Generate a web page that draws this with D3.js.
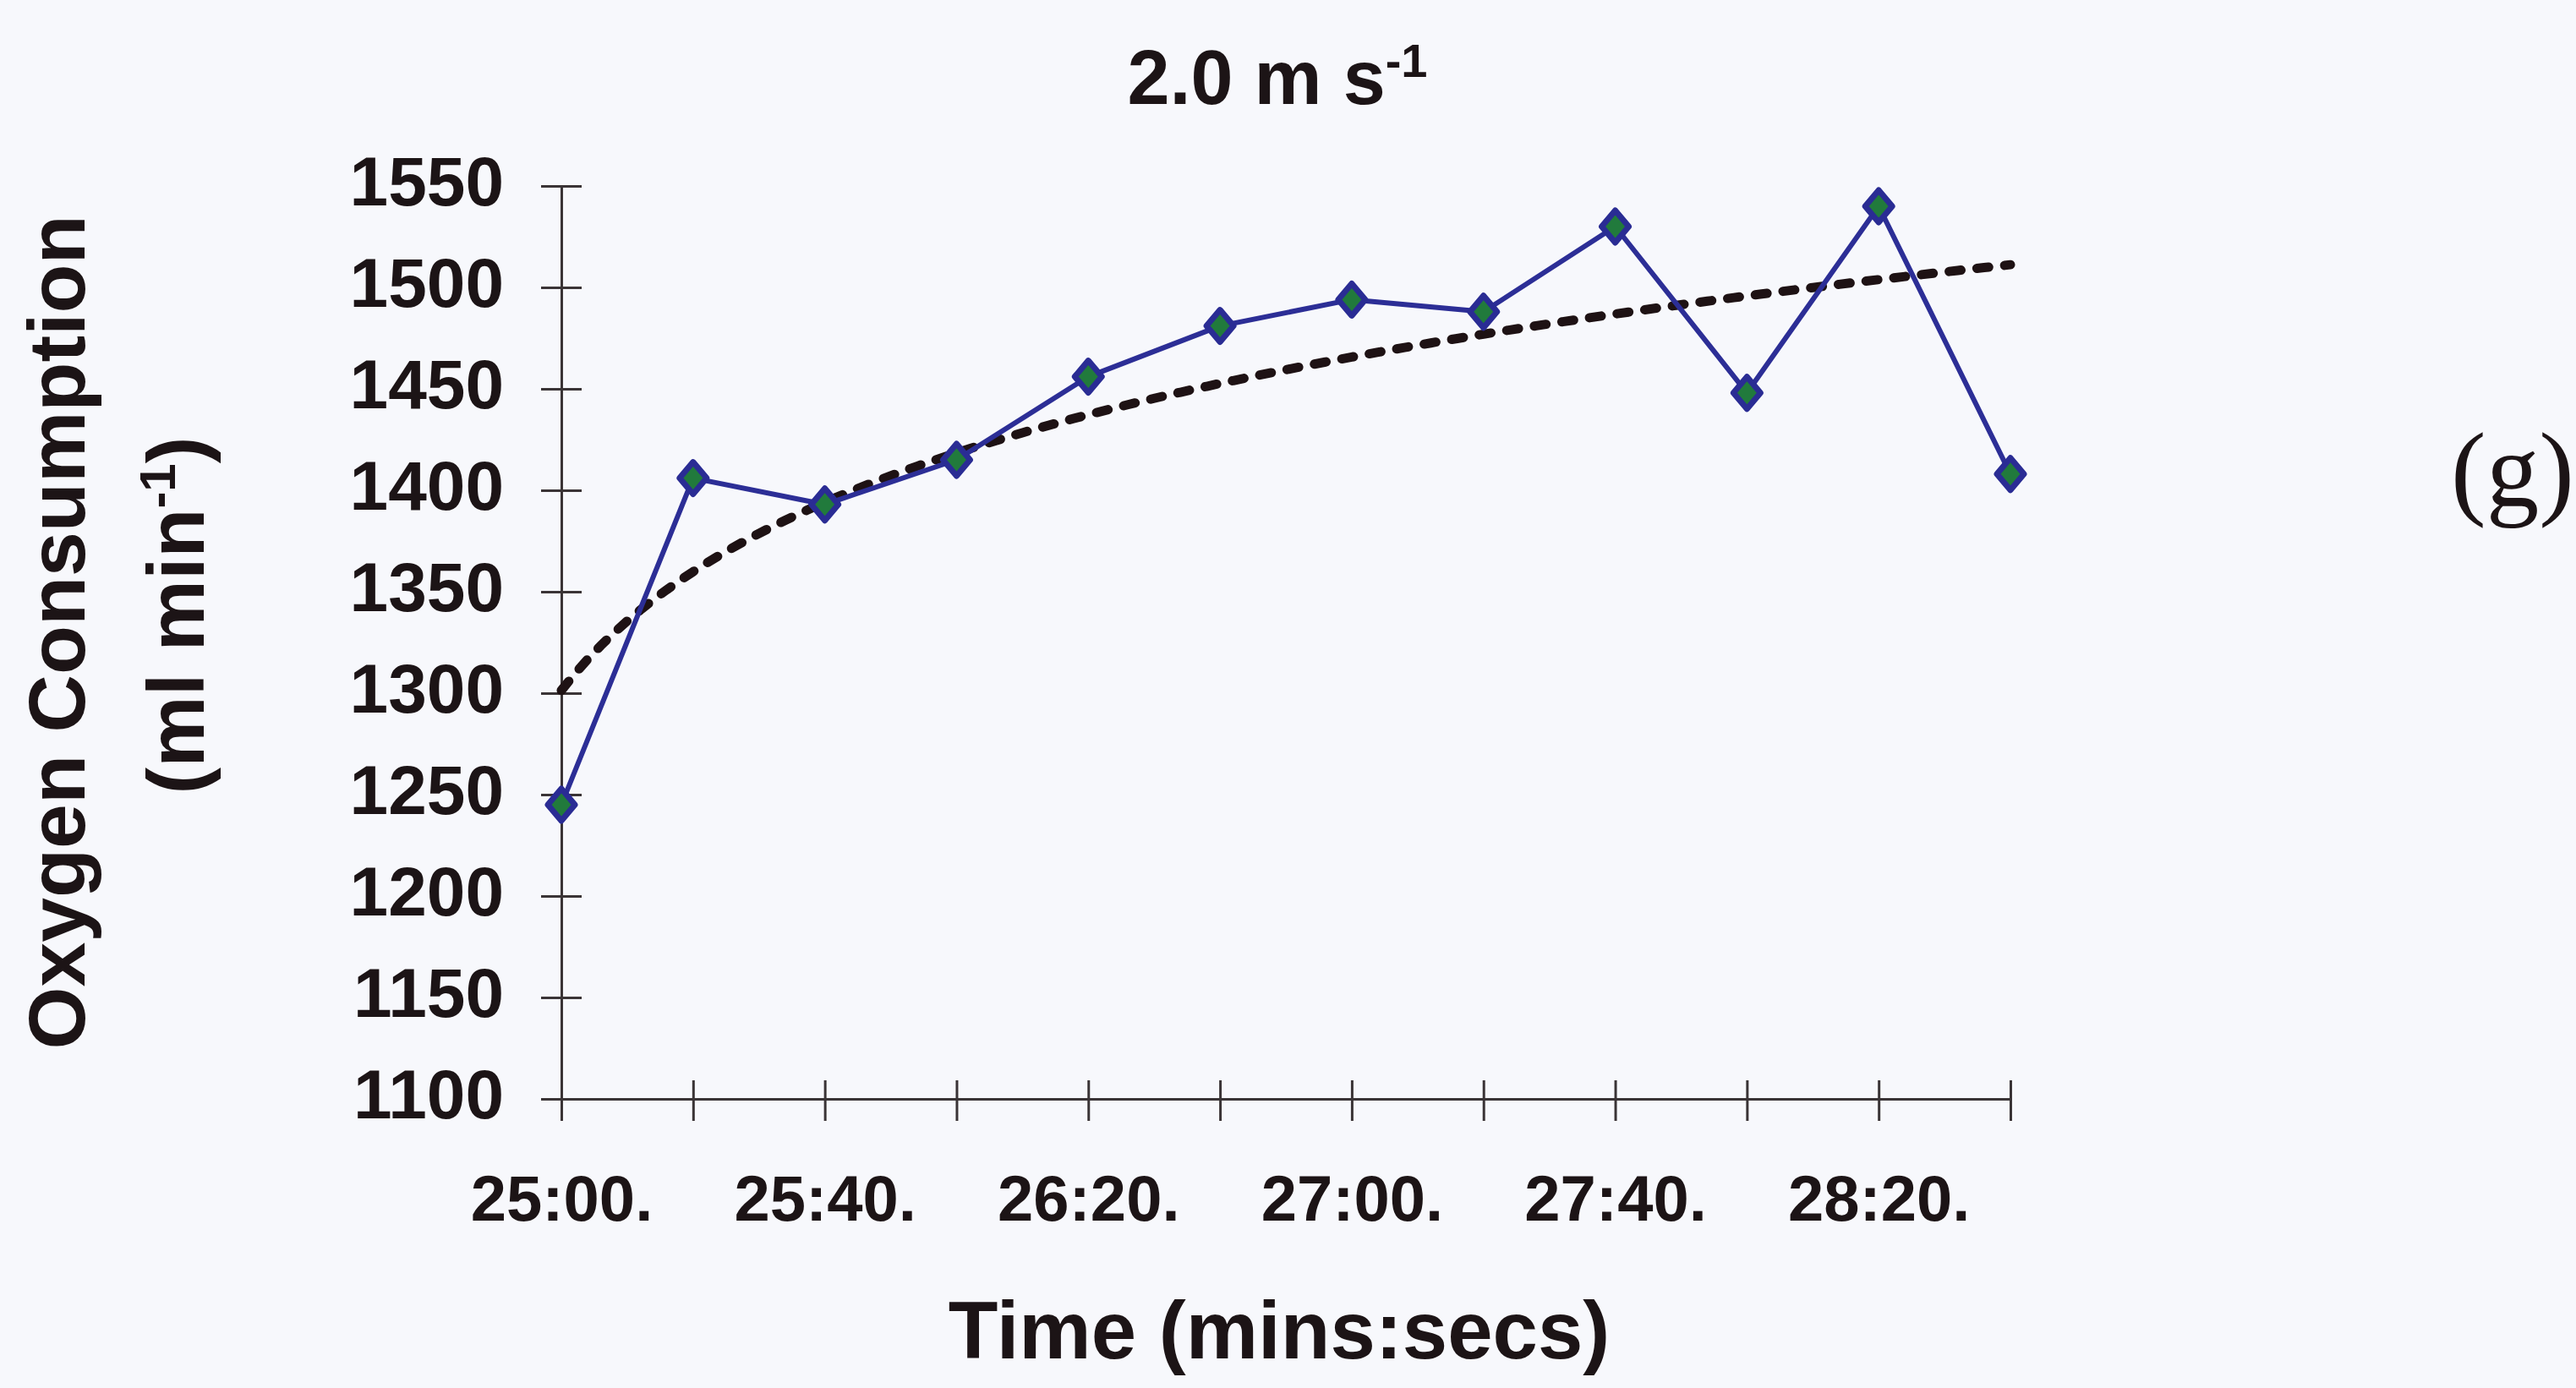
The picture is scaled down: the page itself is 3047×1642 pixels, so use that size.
<!DOCTYPE html>
<html>
<head>
<meta charset="utf-8">
<script src="https://cdn.jsdelivr.net/npm/d3@7"></script>
<style>
  html, body { margin: 0; padding: 0; background: #f7f8fc; }
  svg { display: block; }
</style>
</head>
<body>
<script>
// ---- data ----
const categories = ["25:00.", "25:20.", "25:40.", "26:00.", "26:20.", "26:40.",
                    "27:00.", "27:20.", "27:40.", "28:00.", "28:20.", "28:40."];
const oxygen = [1245, 1406, 1393, 1415, 1456, 1481, 1494, 1488, 1530, 1448, 1540, 1408];
const yTicks = [1100, 1150, 1200, 1250, 1300, 1350, 1400, 1450, 1500, 1550];
const xLabelled = ["25:00.", "25:40.", "26:20.", "27:00.", "27:40.", "28:20."];

const W = 3047, H = 1642;
const svg = d3.select("body").append("svg").attr("width", W).attr("height", H);
svg.append("rect").attr("width", W).attr("height", H).attr("fill", "#f7f8fc");

const ink = "#1c1416";
const font = "'Liberation Sans', Arial, sans-serif";

const x = d3.scalePoint().domain(categories).range([664, 2378]);
const y = d3.scaleLinear().domain([1100, 1550]).range([1300, 220]);

// ---- axes ----
const xAxis = d3.axisBottom(x).tickSize(25).tickFormat(d => xLabelled.includes(d) ? d : "");
const gx = svg.append("g").attr("transform", `translate(0,${y(1100)})`).call(xAxis);
gx.select(".domain").attr("stroke", "#3a3436").attr("stroke-width", 3);
gx.selectAll(".tick line").attr("stroke", "#3a3436").attr("stroke-width", 3).attr("y1", -22).attr("y2", 26);
gx.selectAll(".tick text").attr("font-family", font).attr("font-weight", "bold")
  .attr("font-size", 76).attr("fill", ink).attr("y", 0).attr("dy", "1.89em");

const yAxis = d3.axisLeft(y).tickValues(yTicks).tickSize(24).tickFormat(d3.format("d"));
const gy = svg.append("g").attr("transform", `translate(${x(categories[0])},0)`).call(yAxis);
gy.select(".domain").attr("stroke", "#3a3436").attr("stroke-width", 3);
gy.selectAll(".tick line").attr("stroke", "#3a3436").attr("stroke-width", 3).attr("x1", 24).attr("x2", -24);
gy.selectAll(".tick text").attr("font-family", font).attr("font-weight", "bold")
  .attr("font-size", 82).attr("fill", ink).attr("x", -68).attr("dy", "0.28em");

// ---- logarithmic trend line (least squares on ln(index)) ----
const lnX = oxygen.map((_, i) => Math.log(i + 1));
const mx = d3.mean(lnX), my = d3.mean(oxygen);
const b = d3.sum(lnX, (l, i) => (l - mx) * (oxygen[i] - my)) / d3.sum(lnX, l => (l - mx) ** 2);
const a = my - b * mx;
const xi = d3.scaleLinear().domain([1, categories.length]).range(x.range());
const trendPts = d3.range(1, categories.length + 0.001, 0.1).map(t => [xi(t), y(a + b * Math.log(t))]);
svg.append("path")
  .attr("d", d3.line()(trendPts))
  .attr("fill", "none").attr("stroke", "#1e1214").attr("stroke-width", 11)
  .attr("stroke-linecap", "round").attr("stroke-dasharray", "14,19");

// ---- data line ----
svg.append("path")
  .datum(oxygen)
  .attr("d", d3.line().x((d, i) => x(categories[i])).y(d => y(d)))
  .attr("fill", "none").attr("stroke", "#2c2e96").attr("stroke-width", 6).attr("stroke-linejoin", "round");

svg.append("g").selectAll("path").data(oxygen).join("path")
  .attr("transform", (d, i) => `translate(${x(categories[i])},${y(d)})`)
  .attr("d", "M0,-19L16,0L0,19L-16,0Z")
  .attr("fill", "#217a3c").attr("stroke", "#2a2c94").attr("stroke-width", 7).attr("stroke-linejoin", "round");

// ---- titles ----
const title = svg.append("text").attr("x", 1511).attr("y", 123).attr("text-anchor", "middle")
  .attr("font-family", font).attr("font-weight", "bold").attr("font-size", 90).attr("fill", ink);
title.append("tspan").text("2.0 m s");
title.append("tspan").attr("font-size", 56).attr("dy", -32).text("-1");

svg.append("text").attr("x", 1513).attr("y", 1607).attr("text-anchor", "middle")
  .attr("font-family", font).attr("font-weight", "bold").attr("font-size", 96).attr("fill", ink)
  .text("Time (mins:secs)");

svg.append("text").attr("transform", "translate(100,748) rotate(-90)").attr("text-anchor", "middle")
  .attr("font-family", font).attr("font-weight", "bold").attr("font-size", 95).attr("fill", ink)
  .text("Oxygen Consumption");

const yl2 = svg.append("text").attr("transform", "translate(241,728) rotate(-90)").attr("text-anchor", "middle")
  .attr("font-family", font).attr("font-weight", "bold").attr("font-size", 95).attr("fill", ink);
yl2.append("tspan").text("(ml min");
yl2.append("tspan").attr("font-size", 60).attr("dy", -34).text("-1");
yl2.append("tspan").attr("dy", 34).text(")");

svg.append("text").attr("x", 2972).attr("y", 598).attr("text-anchor", "middle")
  .attr("font-family", "'Liberation Serif', 'Times New Roman', serif").attr("font-size", 125).attr("fill", ink)
  .text("(g)");
</script>
</body>
</html>
